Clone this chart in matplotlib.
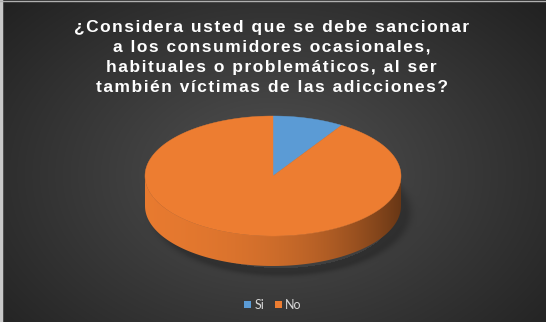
"""3D-style pie chart with survey answer Si / No on dark background."""

import numpy as np
import matplotlib
matplotlib.use("Agg")
import matplotlib.pyplot as plt
from matplotlib.patches import Polygon, Patch

# ── Data ──────────────────────────────────────────────
labels = ["Si", "No"]
values = [9, 91]
colors = ["#5b9bd5", "#ed7d31"]
title_lines = [
    "¿Considera usted que se debe sancionar",
    "a los consumidores ocasionales,",
    "habituales o problemáticos, al ser",
    "también víctimas de las adicciones?",
]

W, H = 546, 322
fig = plt.figure(figsize=(W / 100, H / 100), dpi=100)
ax = fig.add_axes([0, 0, 1, 1])
ax.set_xlim(0, W)
ax.set_ylim(H, 0)
ax.axis("off")

# pie geometry (pixels)
cx, cy, rx, ry, depth = 273, 176, 128, 60, 30

# ── Background: radial gradient + soft shadow ─────────
yy, xx = np.mgrid[0:H, 0:W] + 0.5
r = np.hypot((xx - 273) / 330, (yy - 175) / 230)
gray = 0.32 - 0.17 * np.clip(r, 0, 1.15)
sh = np.hypot((xx - cx - 8) / (rx + 6), (yy - cy - depth - 6) / (ry + 6))
gray -= 0.06 * np.exp(-((np.clip(sh - 0.92, 0, None)) / 0.06) ** 2) * (sh > 0.85)
bg = np.dstack([gray, gray, gray])
ax.imshow(bg, extent=(0, W, H, 0), interpolation="bilinear", zorder=0)
ax.plot([1, 1], [0, H], color="#c8c8c8", lw=2.5, zorder=1)
ax.plot([0, W], [0.5, 0.5], color="#b0b0b0", lw=1, zorder=1)


def pt(theta, dy=0.0):
    return cx + rx * np.cos(theta), cy - ry * np.sin(theta) + dy


# ── Slices ────────────────────────────────────────────
total = float(sum(values))
start = np.pi / 2
for val, col in zip(values, colors):
    span = 2 * np.pi * val / total
    end = start - span
    th = np.linspace(start, end, 200)

    # side wall for the part facing the viewer (angles in (pi, 2pi))
    vis = th[np.sin(th) < 0]
    if len(vis) > 1:
        tx, ty = pt(vis)
        bx, by = pt(vis[::-1], depth)
        side = Polygon(np.column_stack([np.r_[tx, bx], np.r_[ty, by]]),
                       closed=True, facecolor="none", edgecolor="none")
        ax.add_patch(side)
        base = np.array(matplotlib.colors.to_rgb(col))
        t = np.linspace(0, 1, 256)
        fac = 0.98 - 0.12 * t - 0.42 * t ** 3
        grad = np.clip(base[None, :] * fac[:, None], 0, 1)[None, :, :]
        im = ax.imshow(grad, extent=(cx - rx, cx + rx, cy + ry + depth, cy - ry),
                       aspect="auto", interpolation="bilinear", zorder=2)
        im.set_clip_path(side)

    # top face
    ax_, ay_ = pt(th)
    top = Polygon(np.column_stack([np.r_[cx, ax_], np.r_[cy, ay_]]),
                  closed=True, facecolor=col, edgecolor=col, lw=0.3, zorder=3)
    ax.add_patch(top)
    start = end

# ── Title (letter spacing via hair spaces) ────────────
y0, line_h = 31.5, 20
for k, line in enumerate(title_lines):
    spaced = "\u200a".join(line)
    ax.text(cx - 1.5, y0 + k * line_h, spaced, family=["Liberation Sans", "DejaVu Sans"],
            weight="bold", size=12.5, color="white", ha="center", va="baseline", zorder=5)

# ── Legend ────────────────────────────────────────────
handles = [Patch(facecolor=c, edgecolor="none", label=l) for l, c in zip(labels, colors)]
leg = fig.legend(handles=handles, loc="center", bbox_to_anchor=(0.5, 1 - 305 / H),
                 ncol=2, frameon=False, handlelength=0.55, handleheight=0.55,
                 handletextpad=0.3, columnspacing=0.8, prop={"family": "Lato", "size": 9})
for txt in leg.get_texts():
    txt.set_color("#d9d9d9")

fig.savefig("out.png", dpi=100)
